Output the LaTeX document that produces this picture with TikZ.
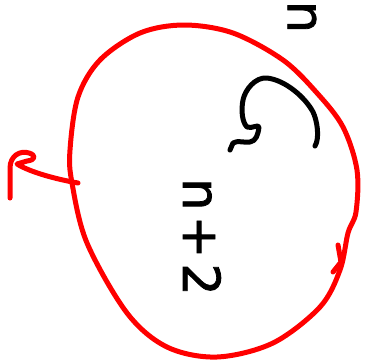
\documentclass[tikz,border=0pt]{standalone}
\usepackage{fontspec}
\setmainfont{DejaVu Sans}
\newfontfamily\handfont[FakeBold=1.5]{DejaVu Sans}
\begin{document}
\begin{tikzpicture}[x=1pt,y=-1pt,
  redpen/.style={draw=red,line width=5pt,line cap=round,line join=round},
  blackpen/.style={draw=black,line width=5pt,line cap=round,line join=round},
  handtext/.style={inner sep=0pt,rotate=-90,font=\handfont\fontsize{51}{51}\selectfont}]
\useasboundingbox (0,0) rectangle (365,360);
% red loop
\draw[redpen] plot[smooth cycle,tension=0.55] coordinates{
 (184,25) (140,33) (100,60) (78,97) (70,150) (72,183) (87,243) (127,313)
 (167,347) (217,357) (273,343) (320,307) (340,270) (348,233) (356,212)
 (357,170) (343,127) (317,93) (283,60) (233,33)};
% tick on the right
\draw[redpen] (338,245) -- (341,262) -- (333,272);
% hook arrow on the left
\draw[redpen] (10,198) -- (10,168) .. controls (10,156) and (20,150) .. (29,153)
  .. controls (36,155) and (36,160) .. (27,161) -- (17,164)
  .. controls (30,172) and (55,179) .. (78,183);
% black curl with tail
\draw[blackpen] (315,146) .. controls (320,138) and (317,120) .. (313,112)
  .. controls (305,97) and (285,80) .. (267,78)
  .. controls (255,77) and (245,90) .. (243,100)
  .. controls (241,110) and (242,122) .. (247,127)
  .. controls (252,129) and (258,124) .. (259,127)
  .. controls (258,135) and (256,141) .. (250,142)
  .. controls (244,143) and (238,140) .. (233,143) -- (230,150);
% texts
\node[handtext] (npt) at (202,237) {n\hspace{5pt}+\hspace{5pt}2};
\node[handtext] (ntop) at (302,17) {n};
\end{tikzpicture}
\end{document}
